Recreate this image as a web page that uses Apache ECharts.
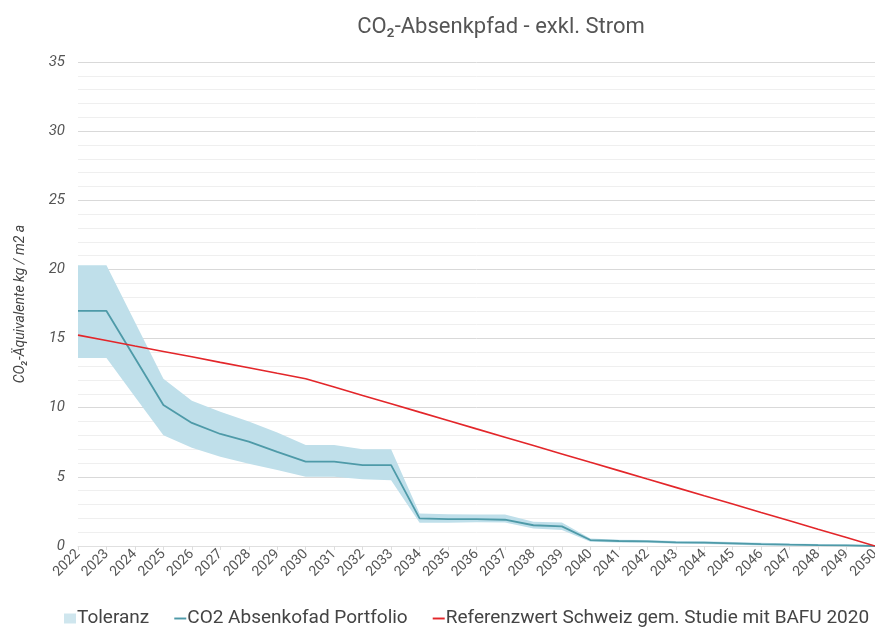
<!DOCTYPE html>
<html><head><meta charset="utf-8">
<script src="https://cdn.jsdelivr.net/npm/echarts@6/dist/echarts.min.js"></script>
<style>html,body{margin:0;padding:0;background:#fff}#c{width:875px;height:627px}</style>
</head><body><div id="c"></div>
<script>
var years = ['2022','2023','2024','2025','2026','2027','2028','2029','2030','2031','2032','2033','2034','2035','2036','2037','2038','2039','2040','2041','2042','2043','2044','2045','2046','2047','2048','2049','2050'];
var portfolio = [17,17,13.6,10.2,8.9,8.1,7.55,6.8,6.1,6.1,5.85,5.85,2.0,1.95,1.95,1.9,1.5,1.42,0.43,0.36,0.34,0.26,0.24,0.19,0.14,0.1,0.07,0.05,0];
var tolUpper = [20.3,20.3,16.2,12.1,10.5,9.7,9.0,8.2,7.3,7.3,7.0,7.0,2.35,2.3,2.28,2.28,1.75,1.7,0.55,0.46,0.44,0.36,0.34,0.29,0.24,0.18,0.14,0.1,0.05];
var tolLower = [13.6,13.6,10.8,8.0,7.1,6.45,5.95,5.5,5.0,5.0,4.83,4.75,1.68,1.68,1.72,1.7,1.27,1.15,0.3,0.26,0.24,0.16,0.14,0.09,0.04,0.02,0,0,0];
var referenz = [15.25,14.86,14.46,14.07,13.68,13.28,12.89,12.49,12.1,11.5,10.89,10.29,9.68,9.08,8.47,7.87,7.26,6.66,6.05,5.45,4.84,4.24,3.63,3.03,2.42,1.82,1.21,0.61,0];
var tolBand = tolUpper.map(function(u,i){return +(u - tolLower[i]).toFixed(2);});

var font = 'Roboto,"Liberation Sans",sans-serif';
var lineIcon = 'path://M0,5L10,5L10,6.6L0,6.6Z';
var chart = echarts.init(document.getElementById('c'));
chart.setOption({
  animation:false,
  title:{text:'CO₂-Absenkpfad - exkl. Strom',left:496,top:11,textAlign:'center',
    textStyle:{fontFamily:font,fontSize:22,fontWeight:'normal',color:'#555'}},
  grid:{left:78,right:0,top:62,bottom:81,outerBoundsMode:'none'},
  legend:{top:609,left:64,width:811,padding:0,itemGap:25,itemWidth:12,itemHeight:10,
    textStyle:{fontFamily:font,fontSize:19,color:'#444',padding:[0,0,0,-4]},
    data:[
      {name:'Toleranz',icon:'rect',itemStyle:{color:'#cfe6ee'}},
      {name:'CO2 Absenkofad Portfolio',icon:lineIcon},
      {name:'Referenzwert Schweiz gem. Studie mit BAFU 2020',icon:lineIcon}
    ]},
  xAxis:{type:'category',data:years,boundaryGap:false,
    axisLine:{show:true,lineStyle:{color:'#e0e0e0'}},
    axisTick:{show:true,alignWithLabel:true,lineStyle:{color:'#ddd'},length:4},
    axisLabel:{rotate:45,fontFamily:font,fontSize:14,color:'#555',margin:6}},
  yAxis:{type:'value',min:0,max:35,interval:5,
    name:'CO₂-Äquivalente kg / m2 a',nameLocation:'middle',nameGap:51,nameRotate:90,
    nameTextStyle:{fontFamily:font,fontSize:14,fontStyle:'italic',color:'#444'},
    axisLine:{show:false},axisTick:{show:false},
    axisLabel:{fontFamily:font,fontSize:15,fontStyle:'italic',color:'#555',margin:13},
    splitLine:{lineStyle:{color:'#d9d9d9',width:1}},
    minorTick:{show:false,splitNumber:5},
    minorSplitLine:{show:true,lineStyle:{color:'#efefef',width:1}}},
  series:[
    {name:'tolLow',type:'line',data:tolLower,stack:'tol',symbol:'none',silent:true,
      lineStyle:{opacity:0},areaStyle:{opacity:0}},
    {name:'Toleranz',type:'line',data:tolBand,stack:'tol',symbol:'none',
      lineStyle:{opacity:0},itemStyle:{color:'#cfe6ee'},areaStyle:{color:'#bfdfea',opacity:1}},
    {name:'CO2 Absenkofad Portfolio',type:'line',data:portfolio,symbol:'none',
      itemStyle:{color:'#4e9aa8'},lineStyle:{color:'#4e9aa8',width:1.8}},
    {name:'Referenzwert Schweiz gem. Studie mit BAFU 2020',type:'line',data:referenz,symbol:'none',
      itemStyle:{color:'#e3262a'},lineStyle:{color:'#e3262a',width:1.6}}
  ]
});
</script></body></html>
